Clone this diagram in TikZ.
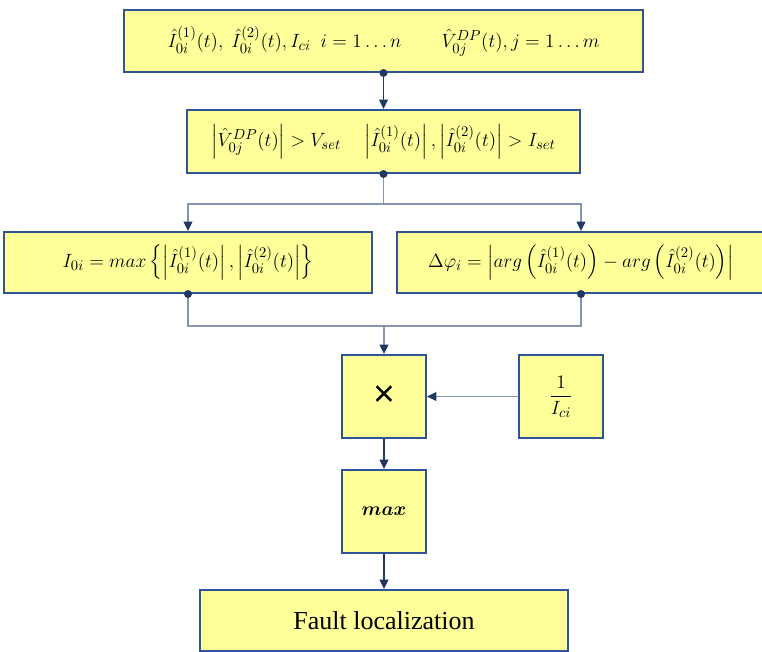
\documentclass[tikz,border=0pt]{standalone}
\usepackage{amsmath}
\usepackage{fontspec}
\setmainfont{Liberation Serif}
\newfontfamily\signfont{Liberation Sans}
\usetikzlibrary{arrows.meta}
\definecolor{boxfill}{HTML}{FFFF99}
\definecolor{boxedge}{HTML}{2F5597}
\definecolor{navy}{HTML}{1F3864}
\definecolor{wire}{HTML}{8497B0}
\tikzset{
  blk/.style={draw=boxedge, fill=boxfill, line width=1.5pt, inner sep=0pt,
              font=\fontsize{15}{18}\selectfont},
  darkline/.style={draw=navy, line width=1.1pt},
  lightline/.style={draw=wire, line width=1.1pt},
  tip/.style={-{Triangle[length=7pt,width=6.5pt,color=navy]}},
  jdot/.style={fill=navy}
}
\begin{document}
\begin{tikzpicture}[x=0.75pt,y=-0.75pt]
\useasboundingbox (0,0) rectangle (762,651);

% blocks
\node[blk, minimum width=389.25pt, minimum height=46.5pt] (src) at (383.5,41)
  {$\hat{I}_{0i}^{(1)}(t),\ \hat{I}_{0i}^{(2)}(t), I_{ci}\ \ i=1\dots n \qquad \hat{V}_{0j}^{DP}(t), j=1\dots m$};
\node[blk, minimum width=294.75pt, minimum height=47.25pt] (thr) at (383.5,141.5)
  {$\left|\hat{V}_{0j}^{DP}(t)\right| > V_{set}\quad \left|\hat{I}_{0i}^{(1)}(t)\right|, \left|\hat{I}_{0i}^{(2)}(t)\right| > I_{set}$};
\node[blk, minimum width=276pt, minimum height=45.75pt] (amp) at (188,262.5)
  {$I_{0i} = max\left\{\left|\hat{I}_{0i}^{(1)}(t)\right|, \left|\hat{I}_{0i}^{(2)}(t)\right|\right\}$};
\node[blk, minimum width=276pt, minimum height=45.75pt] (ang) at (581,262.5)
  {$\Delta\varphi_i = \left|arg\left(\hat{I}_{0i}^{(1)}(t)\right) - arg\left(\hat{I}_{0i}^{(2)}(t)\right)\right|$};
\node[blk, minimum width=63pt, minimum height=62.25pt] (mul) at (384,396.5)
  {\signfont\fontsize{28}{30}\selectfont ×};
\node[blk, minimum width=63pt, minimum height=62.25pt] (inv) at (561,396.5)
  {$\dfrac{1}{I_{ci}}$};
\node[blk, minimum width=63pt, minimum height=62.25pt] (mx) at (384,511.5)
  {$\boldsymbol{max}$};
\node[blk, minimum width=276pt, minimum height=45.75pt, font=\fontsize{19.5}{22}\selectfont] (out) at (384,620.5)
  {Fault localization};

% connectors
\draw[darkline, tip] (src.south) -- (thr.north);
\path (thr.south) ++(0,30) coordinate (split);
\draw[lightline] (thr.south) -- (split);
\draw[lightline, tip] (split) -| (amp.north);
\draw[lightline, tip] (split) -| (ang.north);
\path (amp.south) ++(0,32) coordinate (merge);
\draw[lightline] (amp.south) -- (merge) -| (ang.south);
\draw[lightline, tip] (mul.north |- merge) -- (mul.north);
\draw[lightline, tip] (inv.west) -- (mul.east);
\draw[darkline, tip] (mul.south) -- (mx.north);
\draw[darkline, tip] (mx.south) -- (out.north);

% junction dots
\fill[jdot] (src.south) circle (3pt);
\fill[jdot] (thr.south) circle (3pt);
\fill[jdot] (amp.south) circle (3pt);
\fill[jdot] (ang.south) circle (3pt);
\end{tikzpicture}
\end{document}
